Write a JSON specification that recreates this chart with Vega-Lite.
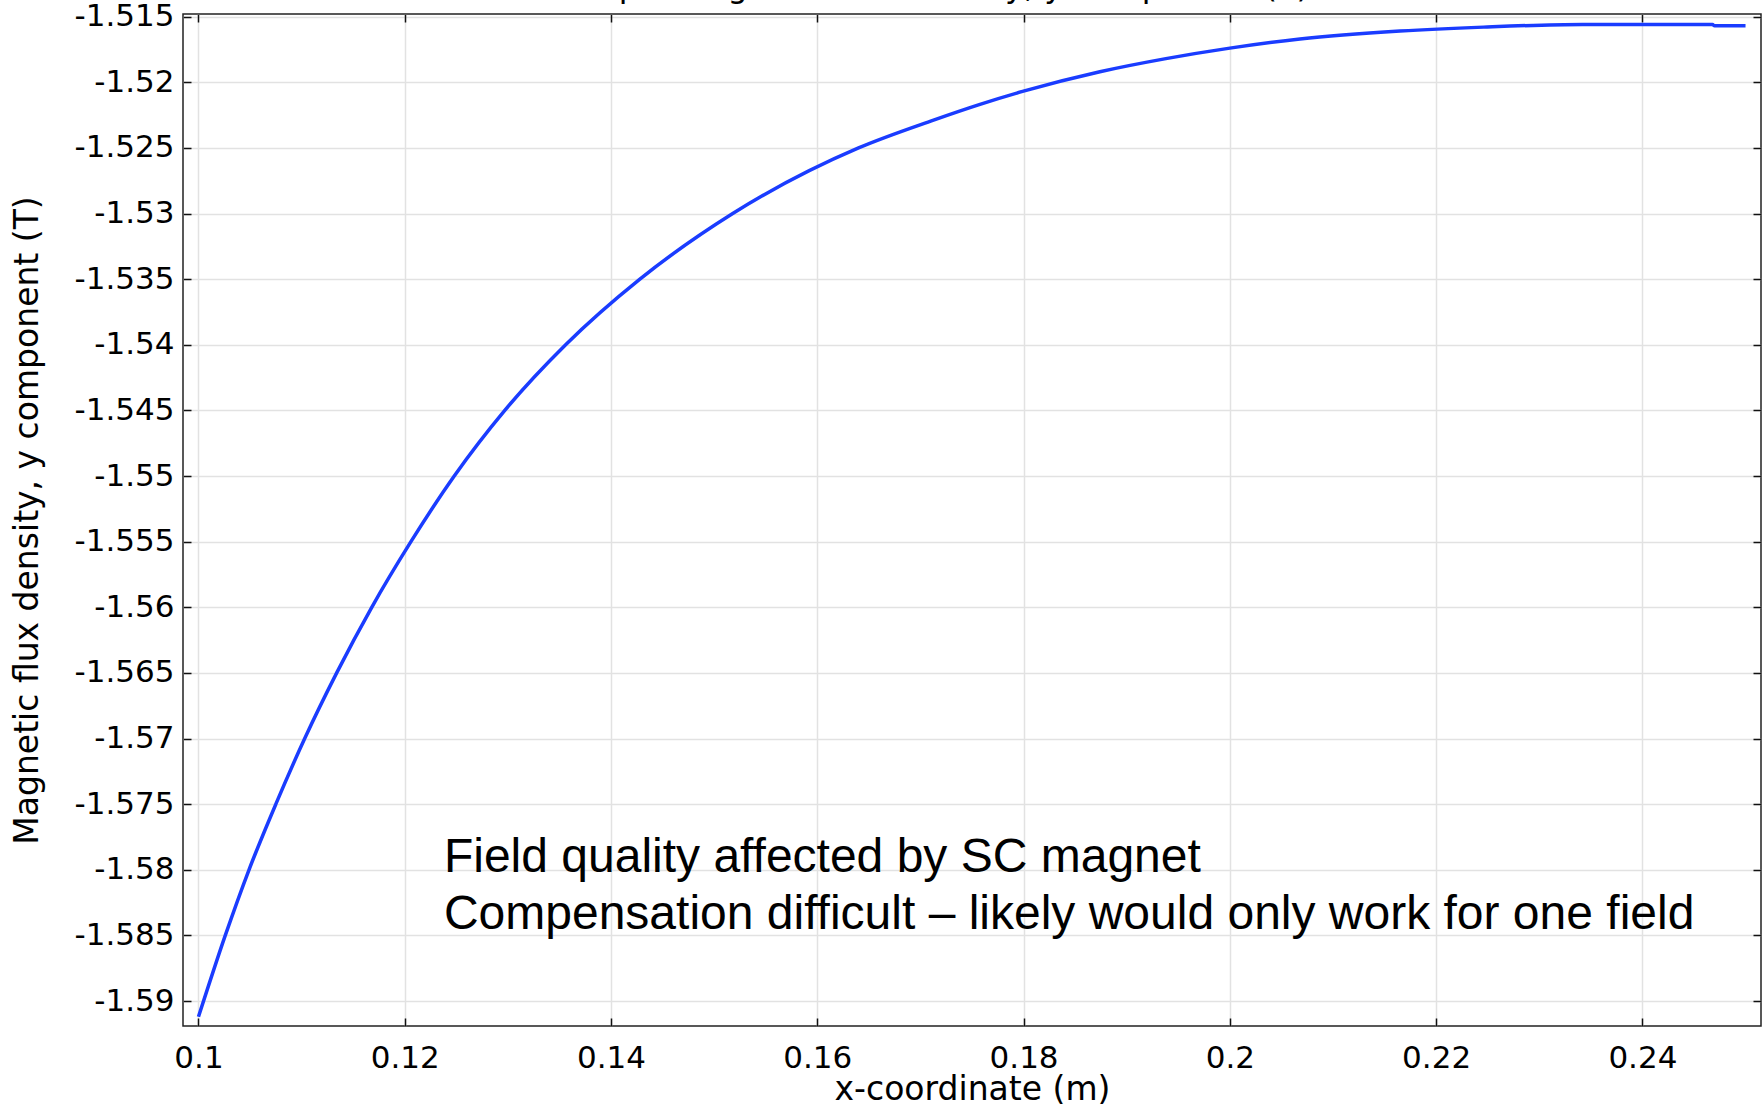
{
  "$schema": "https://vega.github.io/schema/vega-lite/v6.json",
  "width": 1578,
  "height": 1012,
  "autosize": {"type": "none"},
  "padding": {"left": 183, "top": 14, "right": 2, "bottom": 79},
  "background": "white",
  "config": {
    "view": {"stroke": "#222222", "strokeWidth": 1.5},
    "axis": {
      "domain": false,
      "tickColor": "#111111",
      "tickWidth": 1.5,
      "tickSize": -8,
      "gridColor": "#e2e2e2",
      "gridWidth": 1.5,
      "labelFont": "DejaVu Sans",
      "labelFontSize": 31,
      "labelColor": "black",
      "labelFlush": false,
      "labelOverlap": false,
      "labelBound": false,
      "titleFont": "DejaVu Sans",
      "titleFontSize": 33,
      "titleFontWeight": "normal",
      "titleColor": "black"
    }
  },
  "datasets": {
    "curve": [
      {"x": 0.1000, "y": -1.5912},
      {"x": 0.1026, "y": -1.5850},
      {"x": 0.1049, "y": -1.5800},
      {"x": 0.1075, "y": -1.5750},
      {"x": 0.1103, "y": -1.5700},
      {"x": 0.1134, "y": -1.5650},
      {"x": 0.1168, "y": -1.5600},
      {"x": 0.1206, "y": -1.5550},
      {"x": 0.1248, "y": -1.5500},
      {"x": 0.1297, "y": -1.5450},
      {"x": 0.1356, "y": -1.5400},
      {"x": 0.1428, "y": -1.5350},
      {"x": 0.1518, "y": -1.5300},
      {"x": 0.1640, "y": -1.5250},
      {"x": 0.1712, "y": -1.5229},
      {"x": 0.1757, "y": -1.5217},
      {"x": 0.1799, "y": -1.5207},
      {"x": 0.1874, "y": -1.5192},
      {"x": 0.1938, "y": -1.5182},
      {"x": 0.2000, "y": -1.5174},
      {"x": 0.2068, "y": -1.5167},
      {"x": 0.2165, "y": -1.5161},
      {"x": 0.2246, "y": -1.5158},
      {"x": 0.2342, "y": -1.5156},
      {"x": 0.2400, "y": -1.5156},
      {"x": 0.2468, "y": -1.5156},
      {"x": 0.2470, "y": -1.5157},
      {"x": 0.2500, "y": -1.5157}
    ],
    "notes": [
      {"x": 0.1238, "y": -1.5802}
    ],
    "heading": [
      {"x": 0.1677, "y": -1.51347}
    ]
  },
  "layer": [
    {
      "data": {"name": "curve"},
      "mark": {"type": "line", "color": "#1a3cff", "strokeWidth": 3.5, "interpolate": "monotone"},
      "encoding": {
        "x": {
          "field": "x",
          "type": "quantitative",
          "scale": {"domain": [0.0985, 0.2515], "nice": false, "zero": false},
          "axis": {
            "orient": "bottom",
            "values": [0.1, 0.12, 0.14, 0.16, 0.18, 0.2, 0.22, 0.24],
            "labelExpr": "'' + datum.value",
            "labelPadding": 25,
            "title": "x-coordinate (m)",
            "titlePadding": 0
          }
        },
        "y": {
          "field": "y",
          "type": "quantitative",
          "scale": {"domain": [-1.5919, -1.5148], "nice": false, "zero": false},
          "axis": {
            "orient": "left",
            "values": [-1.59, -1.585, -1.58, -1.575, -1.57, -1.565, -1.56, -1.555, -1.55, -1.545, -1.54, -1.535, -1.53, -1.525, -1.52, -1.515],
            "labelExpr": "'' + datum.value",
            "labelPadding": 17,
            "title": "Magnetic flux density, y component (T)",
            "titlePadding": 30
          }
        }
      }
    },
    {
      "data": {"name": "curve"},
      "mark": {"type": "line", "opacity": 0},
      "encoding": {
        "x": {
          "field": "x",
          "type": "quantitative",
          "axis": {
            "orient": "top",
            "values": [0.1, 0.12, 0.14, 0.16, 0.18, 0.2, 0.22, 0.24],
            "labels": false,
            "grid": false,
            "title": null
          }
        },
        "y": {
          "field": "y",
          "type": "quantitative",
          "axis": {
            "orient": "right",
            "values": [-1.59, -1.585, -1.58, -1.575, -1.57, -1.565, -1.56, -1.555, -1.55, -1.545, -1.54, -1.535, -1.53, -1.525, -1.52, -1.515],
            "labels": false,
            "grid": false,
            "title": null
          }
        }
      }
    },
    {
      "data": {"name": "notes"},
      "mark": {
        "type": "text",
        "text": ["Field quality affected by SC magnet", "Compensation difficult \u2013 likely would only work for one field"],
        "font": "Liberation Sans",
        "fontSize": 48,
        "lineHeight": 56.6,
        "align": "left",
        "baseline": "alphabetic",
        "color": "black"
      },
      "encoding": {
        "x": {"field": "x", "type": "quantitative", "axis": null},
        "y": {"field": "y", "type": "quantitative", "axis": null}
      }
    },
    {
      "data": {"name": "heading"},
      "mark": {
        "type": "text",
        "text": "Line Graph: Magnetic flux density, y component (T)",
        "font": "DejaVu Sans",
        "fontSize": 32,
        "align": "center",
        "baseline": "alphabetic",
        "color": "black"
      },
      "encoding": {
        "x": {"field": "x", "type": "quantitative", "axis": null},
        "y": {"field": "y", "type": "quantitative", "axis": null}
      }
    }
  ],
  "resolve": {"axis": {"x": "independent", "y": "independent"}}
}
